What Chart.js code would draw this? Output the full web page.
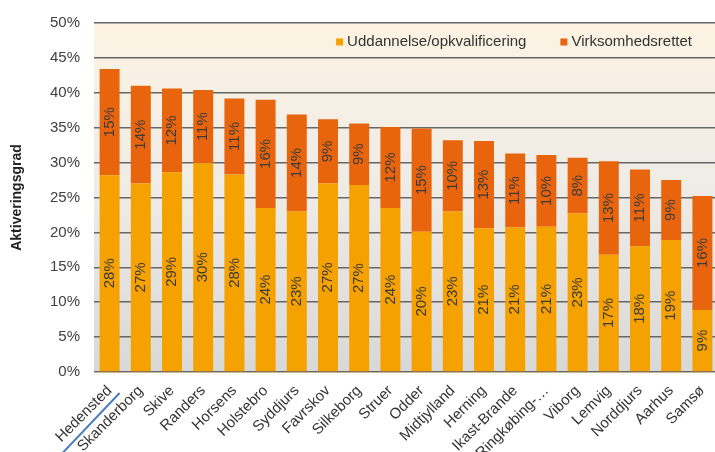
<!DOCTYPE html>
<html>
<head>
<meta charset="utf-8">
<script src="https://cdn.jsdelivr.net/npm/chart.js@4"></script>
<style>
  html, body { margin: 0; padding: 0; background: #fff; overflow: hidden; }
  #wrap { width: 720px; height: 452px; }
</style>
</head>
<body>
<div id="wrap"><canvas id="myChart" width="720" height="452"></canvas></div>
<script>
const kommuner = ['Hedensted', 'Skanderborg', 'Skive', 'Randers', 'Horsens', 'Holstebro', 'Syddjurs',
  'Favrskov', 'Silkeborg', 'Struer', 'Odder', 'Midtjylland', 'Herning', 'Ikast-Brande',
  'Ringkøbing-…', 'Viborg', 'Lemvig', 'Norddjurs', 'Aarhus', 'Samsø'];

const uddannelse = [28.2, 27.0, 28.6, 29.9, 28.3, 23.5, 23.0, 27.0, 26.8, 23.5,
  20.1, 23.0, 20.6, 20.7, 20.8, 22.7, 16.8, 18.0, 18.9, 8.9];

const virksomhed = [15.2, 14.0, 12.0, 10.5, 10.9, 15.5, 13.9, 9.2, 8.8, 11.6,
  14.8, 10.2, 12.5, 10.6, 10.3, 8.0, 13.4, 11.0, 8.6, 16.3];

const yTicks = [0, 5, 10, 15, 20, 25, 30, 35, 40, 45, 50];

const FONT = '"Liberation Sans", Arial, sans-serif';

// baggrund i plotområdet (creme -> lysegrå)
const bgPlugin = {
  id: 'plotBg',
  beforeDraw(chart) {
    const { ctx, chartArea: a } = chart;
    const g = ctx.createLinearGradient(0, a.top, 0, a.bottom);
    g.addColorStop(0, '#fcf3e3');
    g.addColorStop(0.5, '#eeebe6');
    g.addColorStop(1, '#d8d8d8');
    ctx.save();
    ctx.fillStyle = g;
    ctx.fillRect(a.left, a.top, a.right - a.left, a.bottom - a.top);
    ctx.restore();
  }
};

// lodrette procent-etiketter i søjlerne
const labelPlugin = {
  id: 'barLabels',
  afterDatasetsDraw(chart) {
    const ctx = chart.ctx;
    ctx.save();
    ctx.font = '15px ' + FONT;
    ctx.fillStyle = '#3a3a3a';
    ctx.textAlign = 'center';
    ctx.textBaseline = 'middle';
    chart.data.datasets.forEach((ds, i) => {
      chart.getDatasetMeta(i).data.forEach((bar, j) => {
        const cy = (bar.y + bar.base) / 2;
        ctx.save();
        ctx.translate(bar.x, cy);
        ctx.rotate(-Math.PI / 2);
        ctx.fillText(Math.round(ds.data[j]) + '%', 0, 0);
        ctx.restore();
      });
    });
    ctx.restore();
  }
};

// forklaring inde i plotområdet, øverst til højre + blå streg under første etiket
const legendPlugin = {
  id: 'innerLegend',
  afterDraw(chart) {
    const { ctx, chartArea: a } = chart;
    const items = chart.data.datasets;
    ctx.save();
    ctx.font = '15px ' + FONT;
    ctx.textBaseline = 'middle';
    const box = 7, gap = 4, between = 34;
    const widths = items.map(d => box + gap + ctx.measureText(d.label).width);
    const total = widths.reduce((s, w) => s + w, 0) + between * (items.length - 1);
    let x = a.right - 26 - total;
    const y = a.top + 19;
    items.forEach((d, i) => {
      ctx.fillStyle = d.backgroundColor;
      ctx.fillRect(x, y - box / 2, box, box);
      ctx.fillStyle = '#333';
      ctx.fillText(d.label, x + box + gap, y);
      x += widths[i] + between;
    });

    const x0 = chart.scales.x.getPixelForTick(0);
    ctx.strokeStyle = '#4a7ebb';
    ctx.lineWidth = 2;
    ctx.beginPath();
    ctx.moveTo(x0 + 10, a.bottom + 21);
    ctx.lineTo(x0 - 48, a.bottom + 82);
    ctx.stroke();
    ctx.restore();
  }
};

const ctx = document.getElementById('myChart');

new Chart(ctx, {
  type: 'bar',
  data: {
    labels: kommuner,
    datasets: [
      {
        label: 'Uddannelse/opkvalificering',
        data: uddannelse,
        backgroundColor: '#f5a100',
        barPercentage: 0.64,
        categoryPercentage: 1
      },
      {
        label: 'Virksomhedsrettet',
        data: virksomhed,
        backgroundColor: '#e8650e',
        barPercentage: 0.64,
        categoryPercentage: 1
      }
    ]
  },
  options: {
    responsive: false,
    animation: false,
    layout: { padding: { top: 12, right: 2, left: 0, bottom: 0 } },
    plugins: {
      legend: { display: false },
      tooltip: { enabled: false }
    },
    scales: {
      x: {
        stacked: true,
        grid: { display: false },
        border: { color: '#c8b89a' },
        ticks: {
          minRotation: 45,
          maxRotation: 45,
          autoSkip: false,
          padding: 2,
          color: '#333',
          font: { size: 15, family: FONT }
        },
        afterFit(scale) { scale.height = 80; }
      },
      y: {
        stacked: true,
        min: 0,
        max: 50,
        afterBuildTicks(scale) { scale.ticks = yTicks.map(v => ({ value: v })); },
        grid: { color: '#666', lineWidth: 1.5, drawTicks: false },
        border: { display: false },
        ticks: {
          padding: 14,
          color: '#404040',
          font: { size: 15, family: FONT },
          callback: v => v + '%'
        },
        title: {
          display: true,
          text: 'Aktiveringsgrad',
          color: '#222',
          font: { size: 14, weight: 'bold', family: FONT },
          padding: { top: 9, bottom: 4 }
        },
        afterFit(scale) { scale.width = 94; }
      }
    }
  },
  plugins: [bgPlugin, labelPlugin, legendPlugin]
});
</script>
</body>
</html>
